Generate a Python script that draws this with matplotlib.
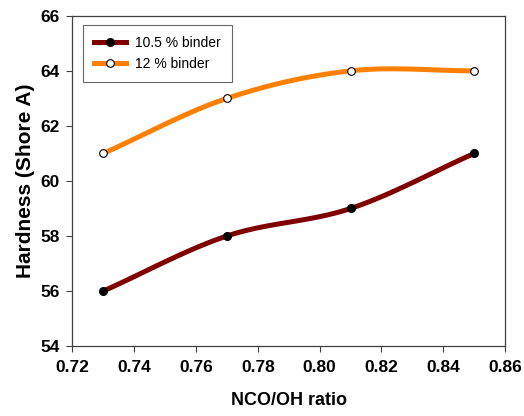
import numpy as np
import matplotlib.pyplot as plt

plt.rcParams['font.family'] = ['Liberation Sans', 'DejaVu Sans']

# data
nco_oh = [0.73, 0.77, 0.81, 0.85]
binder_105 = [56, 58, 59, 61]
binder_12 = [61, 63, 64, 64]

x_ticks = [0.72, 0.74, 0.76, 0.78, 0.80, 0.82, 0.84, 0.86]
y_ticks = [54, 56, 58, 60, 62, 64, 66]


def smooth(xs, ys, n=40):
    # catmull-rom style smoothing like Excel's "smoothed line"
    xs = np.asarray(xs, float)
    ys = np.asarray(ys, float)
    px = np.concatenate([[2 * xs[0] - xs[1]], xs, [2 * xs[-1] - xs[-2]]])
    py = np.concatenate([[2 * ys[0] - ys[1]], ys, [2 * ys[-1] - ys[-2]]])
    ox, oy = [], []
    t = np.linspace(0, 1, n)
    for i in range(1, len(px) - 2):
        for p, out in ((px, ox), (py, oy)):
            p0, p1, p2, p3 = p[i - 1], p[i], p[i + 1], p[i + 2]
            c = 0.5 * ((2 * p1) + (-p0 + p2) * t
                       + (2 * p0 - 5 * p1 + 4 * p2 - p3) * t ** 2
                       + (-p0 + 3 * p1 - 3 * p2 + p3) * t ** 3)
            out.extend(c)
    return ox, oy


fig = plt.figure(figsize=(5.24, 4.16), dpi=100)
ax = fig.add_axes([0.138, 0.168, 0.826, 0.794])

lw = 3.6
sx, sy = smooth(nco_oh, binder_105)
ax.plot(sx, sy, color='#800000', lw=lw, solid_capstyle='butt', zorder=2)
ax.plot(nco_oh, binder_105, 'o', color='black', ms=5.5, zorder=3)

sx, sy = smooth(nco_oh, binder_12)
ax.plot(sx, sy, color='#FF8000', lw=lw, solid_capstyle='butt', zorder=2)
ax.plot(nco_oh, binder_12, 'o', mfc='white', mec='black', mew=0.8, ms=5.5, zorder=3)

# legend handles
ax.plot([], [], color='#800000', lw=lw, marker='o', mfc='black', mec='black', ms=5.5,
        label='10.5 % binder')
ax.plot([], [], color='#FF8000', lw=lw, marker='o', mfc='white', mec='black', mew=0.8, ms=5.5,
        label='12 % binder')
leg = ax.legend(loc='upper left', bbox_to_anchor=(0.025, 0.973), borderaxespad=0,
                fontsize=10, frameon=True, fancybox=False, edgecolor='#404040',
                handlelength=2.3, handletextpad=0.65, borderpad=0.8, labelspacing=0.5)
leg.get_frame().set_linewidth(0.8)

ax.set_xlim(0.72, 0.86)
ax.set_ylim(54, 66)
ax.set_xticks(x_ticks)
ax.set_yticks(y_ticks)
ax.set_xticklabels([f'{v:.2f}' for v in x_ticks], fontweight='bold', fontsize=12.5)
ax.set_yticklabels([str(v) for v in y_ticks], fontweight='bold', fontsize=12.5)
ax.tick_params(direction='out', length=4, width=0.8, color='#404040', top=False, right=False)
ax.tick_params(axis='x', pad=6)
ax.tick_params(axis='y', pad=5)
for s in ax.spines.values():
    s.set_color('#404040')
    s.set_linewidth(0.9)

ax.set_xlabel('NCO/OH ratio', fontweight='bold', fontsize=13, labelpad=12)
ax.set_ylabel('Hardness (Shore A)', fontweight='bold', fontsize=15, labelpad=4)

fig.savefig('out.png', dpi=100)
